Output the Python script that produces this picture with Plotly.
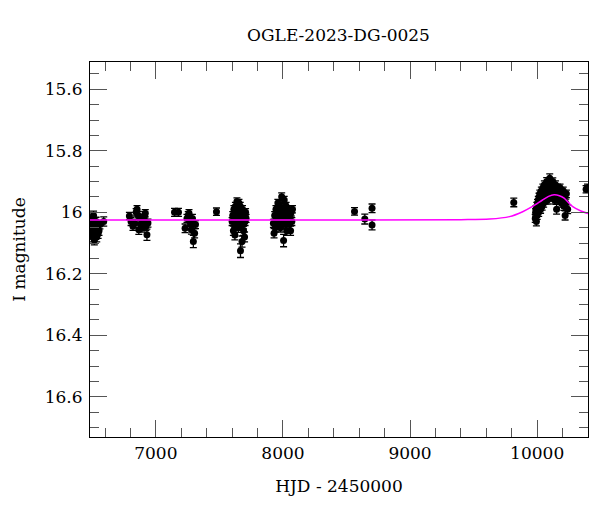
import plotly.graph_objects as go

# ---- data ----
s1_t = [6486, 6489, 6492, 6495, 6498, 6501, 6504, 6507, 6510, 6513, 6516, 6519, 6522, 6526, 6530, 6535, 6540, 6546, 6553, 6560, 6590]
s1_m = [16.05, 16.07, 16.03, 16.06, 16.02, 16.08, 16.04, 16.06, 16.01, 16.05, 16.09, 16.04, 16.07, 16.06, 16.03, 16.08, 16.05, 16.07, 16.06, 16.04, 16.03]
s1_e = [0.015, 0.015, 0.014, 0.015, 0.014, 0.016, 0.014, 0.015, 0.014, 0.015, 0.016, 0.014, 0.015, 0.015, 0.014, 0.016, 0.015, 0.015, 0.015, 0.014, 0.015]

s2_t = [6792, 6805, 6820, 6834, 6845, 6852, 6860, 6866, 6875, 6882, 6890, 6898, 6905, 6912, 6917, 6922, 6930, 6938]
s2_m = [16.012, 16.03, 16.045, 16.036, 16.0, 15.99, 16.01, 16.057, 16.02, 16.04, 16.05, 16.03, 16.02, 16.01, 16.003, 16.045, 16.073, 16.035]
s2_e = [0.012, 0.013, 0.014, 0.013, 0.012, 0.012, 0.013, 0.015, 0.013, 0.014, 0.014, 0.013, 0.013, 0.012, 0.012, 0.014, 0.018, 0.013]

s3_t = [7147, 7178, 7230, 7245, 7255, 7261, 7270, 7275, 7280, 7288, 7292, 7295, 7305, 7312, 7477]
s3_m = [16.0, 16.0, 16.052, 16.02, 16.01, 16.003, 16.03, 16.04, 16.057, 16.02, 16.04, 16.095, 16.068, 16.04, 15.998]
s3_e = [0.013, 0.013, 0.014, 0.013, 0.012, 0.012, 0.013, 0.014, 0.014, 0.013, 0.013, 0.02, 0.015, 0.013, 0.012]

s4_t = [7600, 7605, 7610, 7614, 7618, 7622, 7626, 7630, 7634, 7638, 7642, 7646, 7650, 7654, 7658, 7662, 7666, 7670,
        7674, 7678, 7682, 7686, 7690, 7694, 7698, 7702, 7706, 7710, 7664, 7640, 7620, 7690, 7655]
s4_m = [16.03, 16.01, 16.06, 15.99, 16.02, 16.074, 15.98, 16.04, 16.0, 15.965, 16.02, 15.99, 16.05, 15.97, 16.01, 16.03, 16.125, 16.0,
        16.04, 16.095, 15.99, 16.02, 16.06, 16.01, 16.08, 16.03, 16.0, 16.02, 15.98, 16.045, 16.05, 16.04, 16.01]
s4_e = [0.013, 0.012, 0.015, 0.012, 0.013, 0.016, 0.012, 0.014, 0.012, 0.012, 0.013, 0.012, 0.015, 0.012, 0.013, 0.013, 0.022, 0.012,
        0.014, 0.018, 0.012, 0.013, 0.015, 0.013, 0.016, 0.013, 0.012, 0.013, 0.012, 0.014, 0.015, 0.014, 0.012]

s5_t = [7925, 7930, 7935, 7940, 7945, 7950, 7955, 7960, 7965, 7970, 7975, 7980, 7985, 7990, 7995, 8000, 8005, 8010,
        8015, 8020, 8025, 8030, 8035, 8040, 8045, 8050, 8055, 8060, 8065, 8070, 8075, 7962, 7985, 8008, 8032, 7998, 8018]
s5_m = [16.036, 16.068, 16.01, 16.05, 15.99, 16.02, 16.04, 15.97, 16.0, 16.03, 15.98, 16.05, 16.01, 15.949, 16.0, 16.03, 16.092, 15.96,
        16.02, 16.04, 15.98, 16.06, 16.0, 16.02, 15.99, 16.04, 16.01, 16.06, 16.0, 16.03, 15.99, 16.02, 15.995, 16.01, 16.005, 16.04, 15.985]
s5_e = [0.013, 0.015, 0.012, 0.014, 0.012, 0.013, 0.014, 0.012, 0.012, 0.013, 0.012, 0.014, 0.012, 0.012, 0.012, 0.013, 0.02, 0.012,
        0.013, 0.014, 0.012, 0.015, 0.012, 0.013, 0.012, 0.014, 0.012, 0.015, 0.012, 0.013, 0.012, 0.013, 0.012, 0.012, 0.012, 0.014, 0.012]

s6_t = [8563, 8644, 8701, 8701, 9816]
s6_m = [15.997, 16.022, 15.987, 16.041, 15.968]
s6_e = [0.012, 0.016, 0.014, 0.016, 0.014]

s7_t = [9985, 9988, 9991, 9994, 9997, 10000, 10003, 10006, 10009, 10012, 10015, 10018, 10021, 10024, 10027, 10030,
        10033, 10036, 10039, 10042, 10045, 10048, 10051, 10054, 10057, 10060, 10063, 10066, 10069, 10072, 10075, 10078,
        10081, 10084, 10087, 10090, 10093, 10096, 10099, 10102, 10105, 10108, 10111, 10114, 10117, 10120, 10123, 10126,
        10129, 10132, 10135, 10138, 10141, 10144, 10147, 10150, 10153, 10156, 10159, 10162, 10165, 10170, 10175, 10180,
        10185, 10190, 10195, 10200, 10205, 10210, 10215, 10220, 10225, 10230, 10240, 10385, 10396]
s7_m = [16.02, 16.00, 15.99, 16.03, 15.98, 16.01, 15.97, 15.99, 15.96, 16.00, 15.95, 15.98, 15.94, 15.97, 15.99, 15.95,
        15.93, 15.96, 15.98, 15.94, 15.92, 15.95, 15.97, 15.93, 15.91, 15.94, 15.96, 15.92, 15.95, 15.93, 15.90, 15.94,
        15.96, 15.92, 15.94, 15.91, 15.93, 15.95, 15.889, 15.92, 15.94, 15.91, 15.93, 15.95, 15.92, 15.94, 15.90, 15.93,
        15.95, 15.92, 15.94, 15.96, 15.93, 15.91, 15.95, 15.93, 15.99, 15.94, 15.92, 15.95, 15.93, 15.96, 15.94, 15.92,
        15.95, 15.97, 15.94, 15.96, 15.93, 15.98, 15.95, 16.01, 15.97, 15.94, 15.99, 15.925, 15.92]
s7_e = [0.013, 0.012, 0.012, 0.014, 0.012, 0.013, 0.012, 0.012, 0.012, 0.013, 0.012, 0.012, 0.012, 0.012, 0.013, 0.012,
        0.012, 0.012, 0.013, 0.012, 0.012, 0.012, 0.013, 0.012, 0.012, 0.012, 0.013, 0.012, 0.012, 0.012, 0.013, 0.012,
        0.013, 0.012, 0.012, 0.012, 0.012, 0.013, 0.014, 0.012, 0.012, 0.012, 0.012, 0.013, 0.012, 0.012, 0.012, 0.012,
        0.013, 0.012, 0.012, 0.013, 0.012, 0.012, 0.013, 0.012, 0.016, 0.012, 0.012, 0.013, 0.012, 0.013, 0.012, 0.012,
        0.013, 0.013, 0.012, 0.013, 0.012, 0.014, 0.012, 0.015, 0.013, 0.012, 0.014, 0.012, 0.012]

# model curve
model_t = [6482, 8000, 9400, 9626, 9782, 9886, 9964, 10042, 10090, 10133, 10175, 10212, 10277, 10340, 10400]
model_m = [16.025, 16.025, 16.024, 16.022, 16.014, 15.998, 15.981, 15.960, 15.948, 15.943, 15.946, 15.954, 15.981, 15.995, 16.004]

title_text = "OGLE-2023-DG-0025"
x_title = "HJD - 2450000"
y_title = "I magnitude"

t_all = s1_t + s2_t + s3_t + s4_t + s5_t + s6_t + s7_t
m_all = s1_m + s2_m + s3_m + s4_m + s5_m + s6_m + s7_m
e_all = s1_e + s2_e + s3_e + s4_e + s5_e + s6_e + s7_e

FONT = "DejaVu Serif"

fig = go.Figure()
fig.add_trace(go.Scatter(
    x=t_all, y=m_all, mode="markers",
    marker=dict(color="black", size=7),
    error_y=dict(type="data", array=e_all, color="black", thickness=1.3, width=3.5),
    showlegend=False,
))
fig.add_trace(go.Scatter(
    x=model_t, y=model_m, mode="lines",
    line=dict(color="#ff00ff", width=1.5, shape="spline", smoothing=0.8),
    showlegend=False,
))

axis_common = dict(
    showgrid=False, zeroline=False, showline=True, linecolor="black", linewidth=1.2,
    mirror="ticks", ticks="inside", ticklen=17, tickcolor="#555", tickwidth=1,
    tickfont=dict(family=FONT, size=17, color="black"),
)

# page body has an 8px margin, so the figure is drawn 8px smaller and shifted
fig.update_layout(
    width=592, height=504,
    margin=dict(l=80, r=11, t=54, b=75),
    paper_bgcolor="white", plot_bgcolor="white",
    title=dict(text=title_text, x=(80 + 581) / 2 / 592, xanchor="center", y=1 - 27 / 504, yanchor="middle",
               font=dict(family=FONT, size=17, color="black")),
    xaxis=dict(axis_common, range=[6482, 10400], dtick=1000, tick0=0, tickformat="d",
               minor=dict(dtick=200, ticklen=9, tickcolor="#555", ticks="inside"),
               title=dict(text=x_title, font=dict(family=FONT, size=17, color="black"), standoff=18)),
    yaxis=dict(axis_common, range=[16.731, 15.511], dtick=0.2, tick0=0, ticklabelstandoff=3,
               minor=dict(dtick=0.05, ticklen=9, tickcolor="#555", ticks="inside"),
               title=dict(text=y_title, font=dict(family=FONT, size=17, color="black"), standoff=14)),
)

fig.write_html("out.html")
